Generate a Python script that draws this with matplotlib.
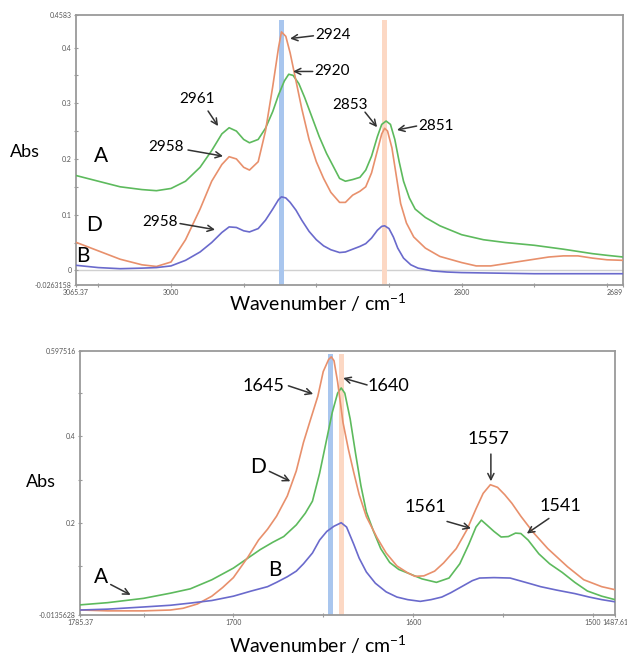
import matplotlib.pyplot as plt

plt.rcParams['font.family'] = ['Lato', 'DejaVu Sans']

# ---------------- C-H stretching region ----------------
ch_xlim = (3065.37, 2689)
ch_ylim = (-0.0263158, 0.4583)

wn_a1 = [3065, 3050, 3035, 3020, 3010, 3000, 2990, 2980, 2972, 2965, 2960, 2955,
         2950, 2946, 2940, 2935, 2930, 2926, 2922, 2919, 2916, 2912, 2908, 2903,
         2898, 2893, 2888, 2884, 2880, 2875, 2870, 2866, 2862, 2858, 2855, 2852,
         2849, 2846, 2843, 2840, 2836, 2832, 2825, 2815, 2800, 2785, 2770, 2750,
         2730, 2710, 2700, 2689]
abs_a1 = [0.170, 0.160, 0.150, 0.145, 0.143, 0.147, 0.160, 0.185, 0.215, 0.245,
          0.256, 0.250, 0.235, 0.229, 0.235, 0.255, 0.285, 0.315, 0.340, 0.352,
          0.350, 0.335, 0.310, 0.275, 0.240, 0.210, 0.185, 0.165, 0.160, 0.163,
          0.167, 0.180, 0.205, 0.240, 0.262, 0.268, 0.262, 0.235, 0.195, 0.160,
          0.130, 0.110, 0.095, 0.080, 0.064, 0.055, 0.050, 0.045, 0.038, 0.030,
          0.027, 0.024]

wn_d1 = [3065, 3050, 3035, 3020, 3010, 3000, 2990, 2980, 2972, 2965, 2960, 2955,
         2950, 2946, 2940, 2935, 2930, 2926, 2924, 2921, 2918, 2914, 2910, 2905,
         2900, 2895, 2890, 2884, 2880, 2875, 2870, 2866, 2862, 2858, 2855, 2853,
         2851, 2848, 2845, 2842, 2838, 2833, 2825, 2815, 2800, 2790, 2780, 2770,
         2760, 2750, 2740, 2730, 2720, 2710, 2700, 2689]
abs_d1 = [0.050, 0.035, 0.020, 0.010, 0.007, 0.015, 0.055, 0.110, 0.160, 0.190,
          0.204, 0.200, 0.185, 0.180, 0.195, 0.250, 0.330, 0.400, 0.428, 0.420,
          0.390, 0.340, 0.290, 0.235, 0.195, 0.165, 0.140, 0.122, 0.122, 0.135,
          0.142, 0.150, 0.175, 0.215, 0.245, 0.255, 0.250, 0.220, 0.170, 0.120,
          0.085, 0.060, 0.040, 0.025, 0.014, 0.008, 0.008, 0.012, 0.016, 0.020,
          0.024, 0.026, 0.026, 0.022, 0.019, 0.018]

wn_b1 = [3065, 3050, 3035, 3020, 3010, 3000, 2990, 2980, 2972, 2965, 2960, 2955,
         2950, 2946, 2940, 2935, 2930, 2926, 2924, 2921, 2918, 2914, 2910, 2905,
         2900, 2895, 2890, 2884, 2880, 2875, 2870, 2866, 2862, 2858, 2855, 2853,
         2850, 2847, 2844, 2840, 2835, 2830, 2820, 2810, 2800, 2750, 2700, 2689]
abs_b1 = [0.009, 0.005, 0.003, 0.004, 0.005, 0.008, 0.018, 0.033, 0.050, 0.068,
          0.078, 0.077, 0.071, 0.069, 0.075, 0.090, 0.110, 0.127, 0.132, 0.130,
          0.122, 0.108, 0.090, 0.070, 0.055, 0.044, 0.037, 0.032, 0.033, 0.038,
          0.043, 0.048, 0.058, 0.072, 0.079, 0.080, 0.075, 0.060, 0.040, 0.022,
          0.010, 0.004, -0.001, -0.003, -0.004, -0.006, -0.006, -0.006]

ch_xticks = [3065.37, 3000, 2800, 2689]
ch_xticklabels = ['3065.37', '3000', '2800', '2689']
ch_xminor = [3050, 2950, 2900, 2850, 2750, 2700]
ch_yticks = [-0.0263158, 0, 0.1, 0.2, 0.3, 0.4, 0.4583]
ch_yticklabels = ['-0.0263158', '0', '0.1', '0.2', '0.3', '0.4', '0.4583']
ch_yminor = [0.05, 0.15, 0.25, 0.35]
ch_bands = [2924, 2853]

# ---------------- amide region ----------------
am_xlim = (1785.37, 1487.61)
am_ylim = (-0.0135628, 0.597516)

wn_a2 = [1785, 1770, 1750, 1735, 1724, 1712, 1700, 1692, 1685, 1678, 1672, 1665,
         1660, 1656, 1652, 1648, 1645, 1642, 1640, 1638, 1635, 1632, 1629, 1626,
         1622, 1618, 1613, 1608, 1602, 1595, 1587, 1580, 1574, 1569, 1565, 1562,
         1559, 1555, 1551, 1547, 1543, 1540, 1536, 1530, 1524, 1517, 1510, 1503,
         1495, 1487.61]
abs_a2 = [0.010, 0.015, 0.025, 0.037, 0.047, 0.068, 0.095, 0.118, 0.138, 0.155,
          0.168, 0.195, 0.222, 0.250, 0.315, 0.395, 0.455, 0.500, 0.512, 0.500,
          0.440, 0.360, 0.285, 0.225, 0.180, 0.140, 0.108, 0.092, 0.082, 0.070,
          0.062, 0.072, 0.105, 0.150, 0.190, 0.206, 0.195, 0.180, 0.167, 0.168,
          0.176, 0.175, 0.160, 0.128, 0.105, 0.085, 0.062, 0.042, 0.030, 0.022]

wn_d2 = [1785, 1770, 1750, 1735, 1728, 1720, 1712, 1706, 1700, 1692, 1686, 1681,
         1676, 1670, 1665, 1661, 1657, 1653, 1650, 1647, 1645.5, 1644, 1642, 1639,
         1636, 1633, 1630, 1626, 1620, 1615, 1609, 1603, 1599, 1594, 1588, 1583,
         1576, 1570, 1565, 1561, 1557, 1553, 1549, 1545, 1540, 1533, 1525, 1514,
         1505, 1495, 1487.61]
abs_d2 = [-0.002, -0.004, -0.004, -0.002, 0.002, 0.012, 0.030, 0.050, 0.073, 0.120,
          0.160, 0.185, 0.215, 0.262, 0.320, 0.386, 0.440, 0.493, 0.550, 0.578,
          0.584, 0.575, 0.526, 0.432, 0.370, 0.316, 0.265, 0.214, 0.165, 0.130,
          0.100, 0.084, 0.076, 0.077, 0.088, 0.107, 0.140, 0.184, 0.232, 0.268,
          0.288, 0.282, 0.265, 0.245, 0.215, 0.177, 0.140, 0.098, 0.068, 0.052,
          0.045]

wn_b2 = [1785, 1770, 1750, 1735, 1724, 1712, 1700, 1690, 1681, 1676, 1670, 1665,
         1661, 1656, 1652, 1648, 1644, 1640, 1637, 1633, 1630, 1626, 1621, 1615,
         1609, 1603, 1596, 1590, 1584, 1579, 1573, 1567, 1563, 1555, 1546, 1540,
         1534, 1529, 1520, 1510, 1502, 1495, 1487.61]
abs_b2 = [-0.002, 0.000, 0.005, 0.009, 0.014, 0.020, 0.030, 0.042, 0.052, 0.062,
          0.075, 0.088, 0.105, 0.130, 0.160, 0.180, 0.192, 0.200, 0.190, 0.150,
          0.118, 0.086, 0.060, 0.040, 0.028, 0.022, 0.018, 0.022, 0.028, 0.038,
          0.052, 0.066, 0.072, 0.073, 0.072, 0.065, 0.058, 0.052, 0.044, 0.036,
          0.028, 0.022, 0.017]

am_xticks = [1785.37, 1700, 1600, 1500, 1487.61]
am_xticklabels = ['1785.37', '1700', '1600', '1500', '1487.61']
am_xminor = [1750, 1650, 1550]
am_yticks = [-0.0135628, 0.2, 0.4, 0.597516]
am_yticklabels = ['-0.0135628', '0.2', '0.4', '0.597516']
am_yminor = [0.1, 0.3, 0.5]
am_bands = [1646, 1640]

# ---------------- styles ----------------
c_green = '#5dba5d'
c_orange = '#e8906c'
c_blue = '#6a6acc'
band_blue = '#a9c6ee'
band_orange = '#fcd8c4'
frame = '#9a9a9a'

fig = plt.figure(figsize=(6.27, 6.56), dpi=100)
ax1 = fig.add_axes([0.1212, 0.5655, 0.8724, 0.4116])
ax2 = fig.add_axes([0.1276, 0.0625, 0.8533, 0.4024])


def style_axes(ax, xlim, ylim, xt, xtl, xm, yt, ytl, ym):
    ax.set_xlim(*xlim)
    ax.set_ylim(*ylim)
    ax.set_xticks(xt)
    ax.set_xticklabels(xtl)
    ax.set_xticks(xm, minor=True)
    ax.set_yticks(yt)
    ax.set_yticklabels(ytl)
    ax.set_yticks(ym, minor=True)
    ax.tick_params(which='both', direction='inout', length=3, width=0.8,
                   color=frame, labelsize=5, labelcolor='#555555', pad=1.5)
    for s in ax.spines.values():
        s.set_color(frame)
        s.set_linewidth(1.3)


def draw_band(ax, center, half, color, top):
    ax.axvspan(center - half, center + half, ymin=0, ymax=top,
               color=color, lw=0, zorder=1)


def arrow(ax, tail, tip):
    ax.annotate('', xy=tip, xytext=tail,
                arrowprops=dict(arrowstyle='->', color='#333333', lw=1.1,
                                shrinkA=0, shrinkB=0, mutation_scale=11))


# top panel
style_axes(ax1, ch_xlim, ch_ylim, ch_xticks, ch_xticklabels, ch_xminor,
           ch_yticks, ch_yticklabels, ch_yminor)
ax1.get_xticklabels()[-1].set_horizontalalignment('right')
ax1.axhline(0, color='#d0d0d0', lw=1, zorder=1)
draw_band(ax1, ch_bands[0], 1.7, band_blue, 0.981)
draw_band(ax1, ch_bands[1], 1.7, band_orange, 0.981)
ax1.plot(wn_a1, abs_a1, color=c_green, lw=1.2, zorder=3)
ax1.plot(wn_d1, abs_d1, color=c_orange, lw=1.2, zorder=3)
ax1.plot(wn_b1, abs_b1, color=c_blue, lw=1.2, zorder=3)

fs1 = 11
ax1.text(2901, 0.423, '2924', fontsize=fs1, ha='left', va='center')
arrow(ax1, (2902, 0.421), (2918.1, 0.416))
ax1.text(2901.6, 0.357, '2920', fontsize=fs1, ha='left', va='center')
arrow(ax1, (2902.5, 0.357), (2916, 0.357))
ax1.text(2982.1, 0.307, '2961', fontsize=fs1, ha='center', va='center')
arrow(ax1, (2974.5, 0.286), (2967.6, 0.259))
ax1.text(3003.4, 0.221, '2958', fontsize=fs1, ha='center', va='center')
arrow(ax1, (2988.3, 0.216), (2964.2, 0.205))
ax1.text(2876.8, 0.296, '2853', fontsize=fs1, ha='center', va='center')
arrow(ax1, (2866.5, 0.284), (2858.2, 0.257))
ax1.text(2830, 0.259, '2851', fontsize=fs1, ha='left', va='center')
arrow(ax1, (2831, 0.259), (2844.5, 0.252))
ax1.text(3007.6, 0.0875, '2958', fontsize=fs1, ha='center', va='center')
arrow(ax1, (2993.8, 0.084), (2969.7, 0.073))
ax1.text(3048.2, 0.205, 'A', fontsize=15, ha='center', va='center')
ax1.text(3053, 0.082, 'D', fontsize=15, ha='center', va='center')
ax1.text(3060.5, 0.025, 'B', fontsize=15, ha='center', va='center')

# bottom panel
style_axes(ax2, am_xlim, am_ylim, am_xticks, am_xticklabels, am_xminor,
           am_yticks, am_yticklabels, am_yminor)
draw_band(ax2, am_bands[0], 1.4, band_blue, 0.99)
draw_band(ax2, am_bands[1], 1.3, band_orange, 0.99)
ax2.plot(wn_a2, abs_a2, color=c_green, lw=1.2, zorder=3)
ax2.plot(wn_d2, abs_d2, color=c_orange, lw=1.2, zorder=3)
ax2.plot(wn_b2, abs_b2, color=c_blue, lw=1.2, zorder=3)

fs2 = 13
ax2.text(1683.3, 0.517, '1645', fontsize=fs2, ha='center', va='center')
arrow(ax2, (1669.4, 0.517), (1655.6, 0.498))
ax2.text(1613.9, 0.517, '1640', fontsize=fs2, ha='center', va='center')
arrow(ax2, (1625.6, 0.519), (1638.9, 0.535))
ax2.text(1686.1, 0.329, 'D', fontsize=15, ha='center', va='center')
arrow(ax2, (1680, 0.319), (1668.3, 0.296))
ax2.text(1676.7, 0.091, 'B', fontsize=15, ha='center', va='center')
ax2.text(1773.9, 0.075, 'A', fontsize=15, ha='center', va='center')
arrow(ax2, (1768.3, 0.057), (1757.2, 0.033))
ax2.text(1558.3, 0.394, '1557', fontsize=fs2, ha='center', va='center')
arrow(ax2, (1556.7, 0.359), (1556.7, 0.296))
ax2.text(1593.3, 0.236, '1561', fontsize=fs2, ha='center', va='center')
arrow(ax2, (1581.1, 0.203), (1567.8, 0.187))
ax2.text(1517.8, 0.238, '1541', fontsize=fs2, ha='center', va='center')
arrow(ax2, (1524.4, 0.210), (1536.7, 0.175))

# axis titles
xlabel = 'Wavenumber / cm$^{\\mathregular{-1}}$'
fig.text(25 / 627, 1 - 152 / 656, 'Abs', fontsize=13, ha='center', va='center')
fig.text(41 / 627, 1 - 482 / 656, 'Abs', fontsize=13, ha='center', va='center')
fig.text(318 / 627, 1 - 303 / 656, xlabel, fontsize=14, ha='center', va='center')
fig.text(318 / 627, 1 - 645 / 656, xlabel, fontsize=14, ha='center', va='center')

fig.savefig('out.png', dpi=100)
